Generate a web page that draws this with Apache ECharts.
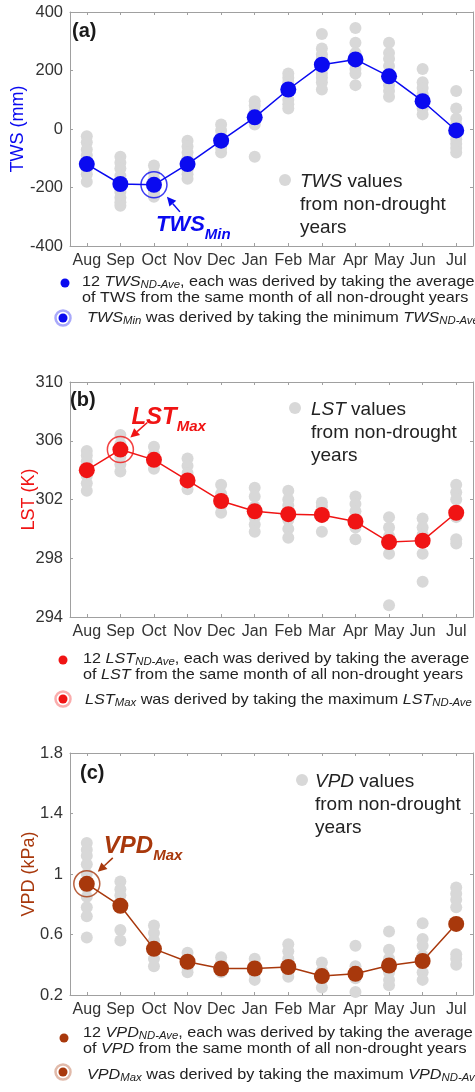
<!DOCTYPE html>
<html>
<head>
<meta charset="utf-8">
<script src="https://cdn.jsdelivr.net/npm/echarts@6/dist/echarts.min.js"></script>
<style>
  body { margin: 0; background: #fff; }
  #chart { width: 475px; height: 1092px; }
</style>
</head>
<body>
<div id="chart"></div>
<script>
const months = ['Aug', 'Sep', 'Oct', 'Nov', 'Dec', 'Jan', 'Feb', 'Mar', 'Apr', 'May', 'Jun', 'Jul'];

// (a) TWS, mm
const twsMean = [-120, -188, -191, -120, -40, 40, 135, 220, 238, 180, 95, -5];
const twsYears = [
  [-25, -45, -70, -90, -110, -135, -155, -180],
  [-95, -115, -135, -160, -215, -235, -250, -262],
  [-125, -150, -170, -205, -220, -232],
  [-40, -60, -80, -100, -140, -155, -170],
  [15, -5, -25, -50, -65, -80],
  [95, 80, 60, 35, 15, -95],
  [190, 175, 160, 125, 100, 85, 70],
  [325, 275, 255, 240, 190, 175, 160, 135],
  [345, 295, 260, 250, 205, 190, 150],
  [295, 260, 240, 215, 190, 150, 130, 110],
  [205, 160, 140, 120, 70, 50],
  [130, 70, 35, 15, -35, -50, -65, -80]
];

// (b) LST, K
const lstMean = [304.0, 305.4, 304.7, 303.3, 301.9, 301.2, 301.0, 300.95, 300.5, 299.1, 299.2, 301.1];
const lstYears = [
  [305.3, 305.0, 304.6, 304.2, 303.6, 303.1, 302.6],
  [306.4, 305.8, 305.3, 304.9, 304.4, 303.9],
  [305.6, 305.1, 304.6, 304.1],
  [304.8, 304.3, 303.8, 303.1, 302.7],
  [303.0, 302.4, 301.6, 301.1],
  [302.8, 302.2, 301.5, 300.8, 300.3, 299.8],
  [302.6, 302.0, 301.6, 300.6, 300.0, 299.4],
  [301.8, 301.5, 300.8, 299.8],
  [302.2, 301.7, 301.2, 300.1, 299.3],
  [300.8, 300.1, 299.5, 298.3, 294.8],
  [300.7, 300.1, 299.6, 298.3, 296.4],
  [303.0, 302.5, 302.0, 300.8, 299.3, 299.0]
];

// (c) VPD, kPa
const vpdMean = [0.935, 0.79, 0.505, 0.42, 0.375, 0.375, 0.385, 0.325, 0.34, 0.395, 0.425, 0.67];
const vpdYears = [
  [1.205, 1.16, 1.12, 1.065, 1.0, 0.91, 0.85, 0.78, 0.72, 0.58],
  [0.95, 0.9, 0.86, 0.78, 0.63, 0.56],
  [0.66, 0.61, 0.56, 0.49, 0.44, 0.39],
  [0.48, 0.44, 0.38, 0.35],
  [0.45, 0.41, 0.35],
  [0.44, 0.39, 0.34, 0.3],
  [0.535, 0.49, 0.44, 0.35, 0.32],
  [0.415, 0.36, 0.3, 0.25],
  [0.525, 0.39, 0.31, 0.22],
  [0.62, 0.5, 0.44, 0.35, 0.3, 0.265],
  [0.675, 0.57, 0.525, 0.46, 0.35, 0.3],
  [0.91, 0.87, 0.83, 0.78, 0.47, 0.44, 0.4]
];

const blue = '#0a0af0';
const red = '#f01414';
const brown = '#a8380c';
const gray = '#d8d8d8';
const font = 'Liberation Sans, Arial, sans-serif';

const panels = [
  { mean: twsMean, years: twsYears, color: blue, name: 'TWS (mm)', min: -400, max: 400, interval: 200, gap: 43, pick: 'min' },
  { mean: lstMean, years: lstYears, color: red, name: 'LST (K)', min: 294, max: 310, interval: 4, gap: 32, pick: 'max' },
  { mean: vpdMean, years: vpdYears, color: brown, name: 'VPD (kPa)', min: 0.2, max: 1.8, interval: 0.4, gap: 32, pick: 'max' }
];
const grids = [
  { left: 70, top: 12, width: 403, height: 234 },
  { left: 70, top: 382, width: 403, height: 235 },
  { left: 70, top: 753, width: 403, height: 242 }
];

const xAxis = [], yAxis = [], series = [];
panels.forEach((p, g) => {
  const line = { show: true, onZero: false, lineStyle: { color: '#a0a0a0', width: 1 } };
  const tick = { show: true, inside: true, length: 3, lineStyle: { color: '#a0a0a0' } };
  xAxis.push({
    type: 'category', gridIndex: g, data: months, boundaryGap: true,
    axisLine: line, axisTick: Object.assign({ alignWithLabel: true }, tick),
    axisLabel: { color: '#333', fontSize: 16, fontFamily: font, margin: 7, interval: 0 }
  });
  xAxis.push({
    type: 'category', gridIndex: g, data: months, position: 'top', boundaryGap: true,
    axisLine: line, axisTick: Object.assign({ alignWithLabel: true }, tick),
    axisLabel: { show: false }
  });
  yAxis.push({
    type: 'value', gridIndex: g, min: p.min, max: p.max, interval: p.interval,
    name: p.name, nameLocation: 'middle', nameGap: p.gap, nameRotate: 90, nameMoveOverlap: false,
    nameTextStyle: { color: p.color, fontSize: 18, fontFamily: font },
    axisLine: line, splitLine: { show: false }, axisTick: tick,
    axisLabel: { color: '#333', fontSize: 16.5, fontFamily: font, margin: 7 }
  });
  yAxis.push({
    type: 'value', gridIndex: g, min: p.min, max: p.max, interval: p.interval, position: 'right',
    axisLine: line, splitLine: { show: false }, axisTick: tick,
    axisLabel: { show: false }
  });

  const pts = [];
  p.years.forEach((vals, i) => vals.forEach(v => pts.push([i, v])));
  series.push({
    type: 'scatter', xAxisIndex: g * 2, yAxisIndex: g * 2, data: pts,
    symbolSize: 12, itemStyle: { color: gray, opacity: 1 }, z: 1, silent: true
  });
  series.push({
    type: 'line', xAxisIndex: g * 2, yAxisIndex: g * 2, data: p.mean,
    symbol: 'circle', symbolSize: 16, itemStyle: { color: p.color },
    lineStyle: { color: p.color, width: 1.5 }, z: 3
  });
  const target = p.pick === 'min' ? Math.min(...p.mean) : Math.max(...p.mean);
  const idx = p.mean.indexOf(target);
  p.idx = idx;
  series.push({
    type: 'scatter', xAxisIndex: g * 2, yAxisIndex: g * 2, data: [[idx, p.mean[idx]]],
    symbol: 'circle', symbolSize: 26,
    itemStyle: { color: 'rgba(0,0,0,0)', borderColor: p.color, borderWidth: 1.5 }, z: 4
  });
});

const chart = echarts.init(document.getElementById('chart'));
chart.setOption({
  animation: false,
  backgroundColor: '#fff',
  grid: grids,
  xAxis: xAxis,
  yAxis: yAxis,
  series: series
});

function arrow(x1, y1, x2, y2, color) {
  const a = Math.atan2(y2 - y1, x2 - x1), h = 9, w = 4.5;
  const bx = x2 - h * Math.cos(a), by = y2 - h * Math.sin(a);
  return [
    { type: 'line', shape: { x1: x1, y1: y1, x2: bx, y2: by }, style: { stroke: color, lineWidth: 1.5 } },
    { type: 'polygon', shape: { points: [[x2, y2], [bx + w * Math.sin(a), by - w * Math.cos(a)], [bx - w * Math.sin(a), by + w * Math.cos(a)]] }, style: { fill: color } }
  ];
}

// notes under each panel are a bit wide and flat in the original, hence scaleX
function note(x, y, text) {
  return { type: 'text', x: x, y: y, scaleX: 1.08, style: { text: text, rich: noteRich, textVerticalAlign: 'middle', fill: '#222' } };
}

const noteRich = {
  n: { fontSize: 15, fontFamily: font, fill: '#222', lineHeight: 18, verticalAlign: 'middle' },
  i: { fontSize: 15, fontFamily: font, fill: '#222', fontStyle: 'italic', lineHeight: 18, verticalAlign: 'middle' },
  s: { fontSize: 10.5, fontFamily: font, fill: '#222', fontStyle: 'italic', lineHeight: 10, verticalAlign: 'bottom' }
};
const keyRich = {
  n: { fontSize: 19, fontFamily: font, fill: '#222', lineHeight: 23 },
  i: { fontSize: 19, fontFamily: font, fill: '#222', fontStyle: 'italic', lineHeight: 23 }
};
function bigRich(color, size) {
  return {
    a: { fontSize: size, fontFamily: font, fontWeight: 'bold', fontStyle: 'italic', fill: color, lineHeight: 34, verticalAlign: 'middle' },
    b: { fontSize: 15, fontFamily: font, fontWeight: 'bold', fontStyle: 'italic', fill: color, lineHeight: 15, verticalAlign: 'bottom' }
  };
}

const vars = ['TWS', 'LST', 'VPD'];
const letters = [['(a)', 72, 31], ['(b)', 70, 400], ['(c)', 80, 773]];
const keys = [[285, 180, 300, 182], [295, 408, 311, 410], [302, 780, 315, 782]];
const notes = [[65, 283, 82, 282, 298, 63, 318, 87, 318],
               [63, 660, 83, 659, 675, 63, 699, 85, 700],
               [64, 1038, 83, 1033, 1049, 63, 1072, 87, 1075]];
// label offsets from the ringed point: arrow tail, arrow tip, label left/middle
const callouts = [
  { tail: [26, 27], tip: [13, 12], lab: [2, 40], sub: 'Min', size: 22 },
  { tail: [27, -27], tip: [10, -12], lab: [11, -32], sub: 'Max', size: 24 },
  { tail: [26, -26], tip: [11, -12], lab: [17, -37], sub: 'Max', size: 24 }
];

const graphic = [];
panels.forEach((p, g) => {
  const v = vars[g];
  const L = letters[g];
  graphic.push({ type: 'text', x: L[1], y: L[2], style: { text: L[0], textVerticalAlign: 'middle', fill: '#1a1a1a', font: 'bold 20px ' + font } });

  const k = keys[g];
  graphic.push({ type: 'circle', shape: { cx: k[0], cy: k[1], r: 6 }, style: { fill: gray } });
  graphic.push({ type: 'text', x: k[2], y: k[3] - 11.5, style: { text: '{i|' + v + '}{n| values}\n{n|from non-drought}\n{n|years}', rich: keyRich, textVerticalAlign: 'top' } });

  const pos = chart.convertToPixel({ seriesIndex: g * 3 + 2 }, [p.idx, p.mean[p.idx]]);
  const c = callouts[g];
  arrow(pos[0] + c.tail[0], pos[1] + c.tail[1], pos[0] + c.tip[0], pos[1] + c.tip[1], p.color).forEach(e => graphic.push(e));
  graphic.push({ type: 'text', x: pos[0] + c.lab[0], y: pos[1] + c.lab[1], style: { text: '{a|' + v + '}{b|' + c.sub + '}', rich: bigRich(p.color, c.size), textVerticalAlign: 'middle' } });

  const nt = notes[g];
  graphic.push({ type: 'circle', shape: { cx: nt[0], cy: nt[1], r: 4.5 }, style: { fill: p.color } });
  graphic.push(note(nt[2], nt[3], '{n|12 }{i|' + v + '}{s|ND-Ave}{n|, each was derived by taking the average}'));
  const of = g === 0 ? '{n|of TWS}' : '{n|of }{i|' + v + '}';
  graphic.push(note(nt[2], nt[4], of + '{n| from the same month of all non-drought years}'));
  graphic.push({ type: 'circle', shape: { cx: nt[5], cy: nt[6], r: 7.5 }, style: { fill: 'none', stroke: p.color, opacity: 0.35, lineWidth: 2.5 } });
  graphic.push({ type: 'circle', shape: { cx: nt[5], cy: nt[6], r: 4.5 }, style: { fill: p.color } });
  const word = p.pick === 'min' ? 'minimum' : 'maximum';
  graphic.push(note(nt[7], nt[8], '{i|' + v + '}{s|' + c.sub + '}{n| was derived by taking the ' + word + ' }{i|' + v + '}{s|ND-Ave}'));
});

chart.setOption({ graphic: graphic });
</script>
</body>
</html>
